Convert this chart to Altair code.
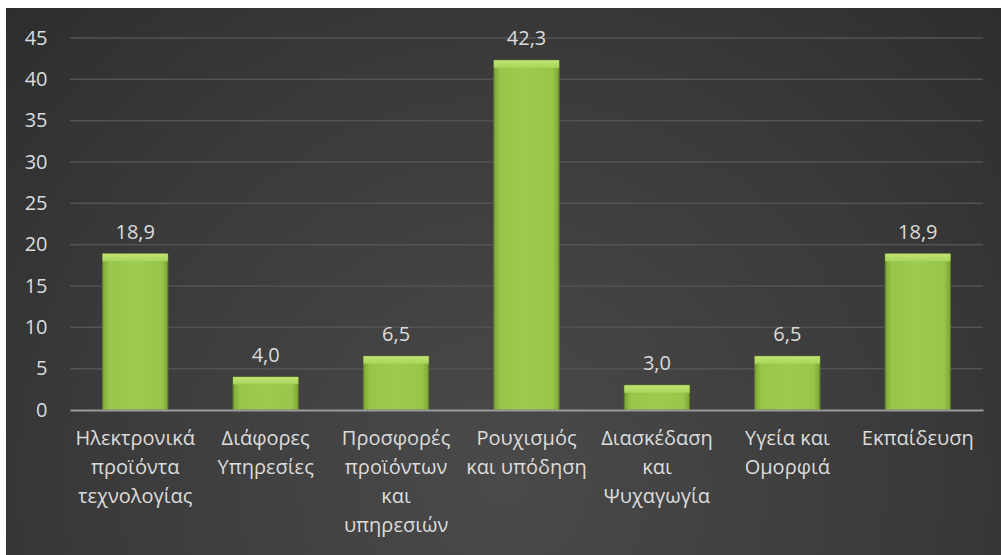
import altair as alt
import pandas as pd

categories = [
    "Ηλεκτρονικά\nπροϊόντα\nτεχνολογίας",
    "Διάφορες\nΥπηρεσίες",
    "Προσφορές\nπροϊόντων\nκαι\nυπηρεσιών",
    "Ρουχισμός\nκαι υπόδηση",
    "Διασκέδαση\nκαι\nΨυχαγωγία",
    "Υγεία και\nΟμορφιά",
    "Εκπαίδευση",
]
values = [18.9, 4.0, 6.5, 42.3, 3.0, 6.5, 18.9]
y_ticks = [0, 5, 10, 15, 20, 25, 30, 35, 40, 45]

FONT = "Open Sans"
TEXT = "#dcdcdc"

df = pd.DataFrame({"cat": categories, "val": values})

bg = alt.Chart(pd.DataFrame({"a": [0]})).mark_rect(
    color=alt.Gradient(
        gradient="radial",
        x1=0.5, y1=0.7, r1=0.0,
        x2=0.5, y2=0.7, r2=0.85,
        stops=[
            alt.GradientStop(color="#4a4a4a", offset=0),
            alt.GradientStop(color="#3a3a3a", offset=0.5),
            alt.GradientStop(color="#262626", offset=1),
        ],
    )
).encode(
    x=alt.value(-64), x2=alt.value(931), y=alt.value(-30), y2=alt.value(517)
)

grid = alt.Chart(pd.DataFrame({"t": y_ticks[1:]})).mark_rule(
    color="#535353", strokeWidth=1.5
).encode(
    y=alt.Y("t:Q", scale=alt.Scale(domain=[0, 45], nice=False)),
    x=alt.value(0), x2=alt.value(913),
)

base = alt.Chart(df)

bars = base.mark_bar(
    color=alt.Gradient(
        gradient="linear",
        x1=0, y1=0, x2=1, y2=0,
        stops=[
            alt.GradientStop(color="#7ea536", offset=0),
            alt.GradientStop(color="#98c64a", offset=0.1),
            alt.GradientStop(color="#9ccb4e", offset=0.5),
            alt.GradientStop(color="#98c64a", offset=0.9),
            alt.GradientStop(color="#7ea536", offset=1),
        ],
    ),
    stroke="#5f7f28",
    strokeWidth=1,
).encode(
    x=alt.X(
        "cat:N",
        sort=None,
        title=None,
        scale=alt.Scale(paddingInner=0.5, paddingOuter=0.25),
        axis=alt.Axis(
            labelExpr="split(datum.label, '\\n')",
            labelAngle=0,
            labelFont=FONT,
            labelFontSize=20,
            labelColor=TEXT,
            labelLineHeight=29,
            labelPadding=18,
            labelBaseline="top",
            ticks=False,
            domainColor="#9a9a9a",
            domainWidth=2,
            grid=False,
            labelLimit=200,
            zindex=1,
        ),
    ),
    y=alt.Y(
        "val:Q",
        title=None,
        scale=alt.Scale(domain=[0, 45], nice=False),
        axis=alt.Axis(
            values=y_ticks,
            labelFont=FONT,
            labelFontSize=20,
            labelColor=TEXT,
            labelPadding=23,
            ticks=False,
            domain=False,
            grid=False,
            zindex=1,
        ),
    ),
)

top = base.transform_calculate(
    y2v="datum.val - 0.9"
).mark_bar(
    color=alt.Gradient(
        gradient="linear",
        x1=0, y1=0, x2=0, y2=1,
        stops=[
            alt.GradientStop(color="#c2e474", offset=0),
            alt.GradientStop(color="#a8d45a", offset=1),
        ],
    ),
).encode(
    x=alt.X("cat:N", sort=None),
    y="val:Q",
    y2="y2v:Q",
)

labels = base.transform_calculate(
    lab="replace(format(datum.val, '.1f'), '.', ',')"
).mark_text(
    font=FONT, fontSize=20, color=TEXT, baseline="bottom", dy=-11
).encode(
    x=alt.X("cat:N", sort=None),
    y="val:Q",
    text="lab:N",
)

chart = alt.layer(bg, grid, bars, top, labels).properties(
    width=913,
    height=372,
    background="white",
    padding={"left": 70, "top": 38, "right": 18, "bottom": 145},
    autosize=alt.AutoSizeParams(type="none"),
).configure_view(stroke=None)

chart.save("out.html", embed_options={"renderer": "svg", "actions": False})
